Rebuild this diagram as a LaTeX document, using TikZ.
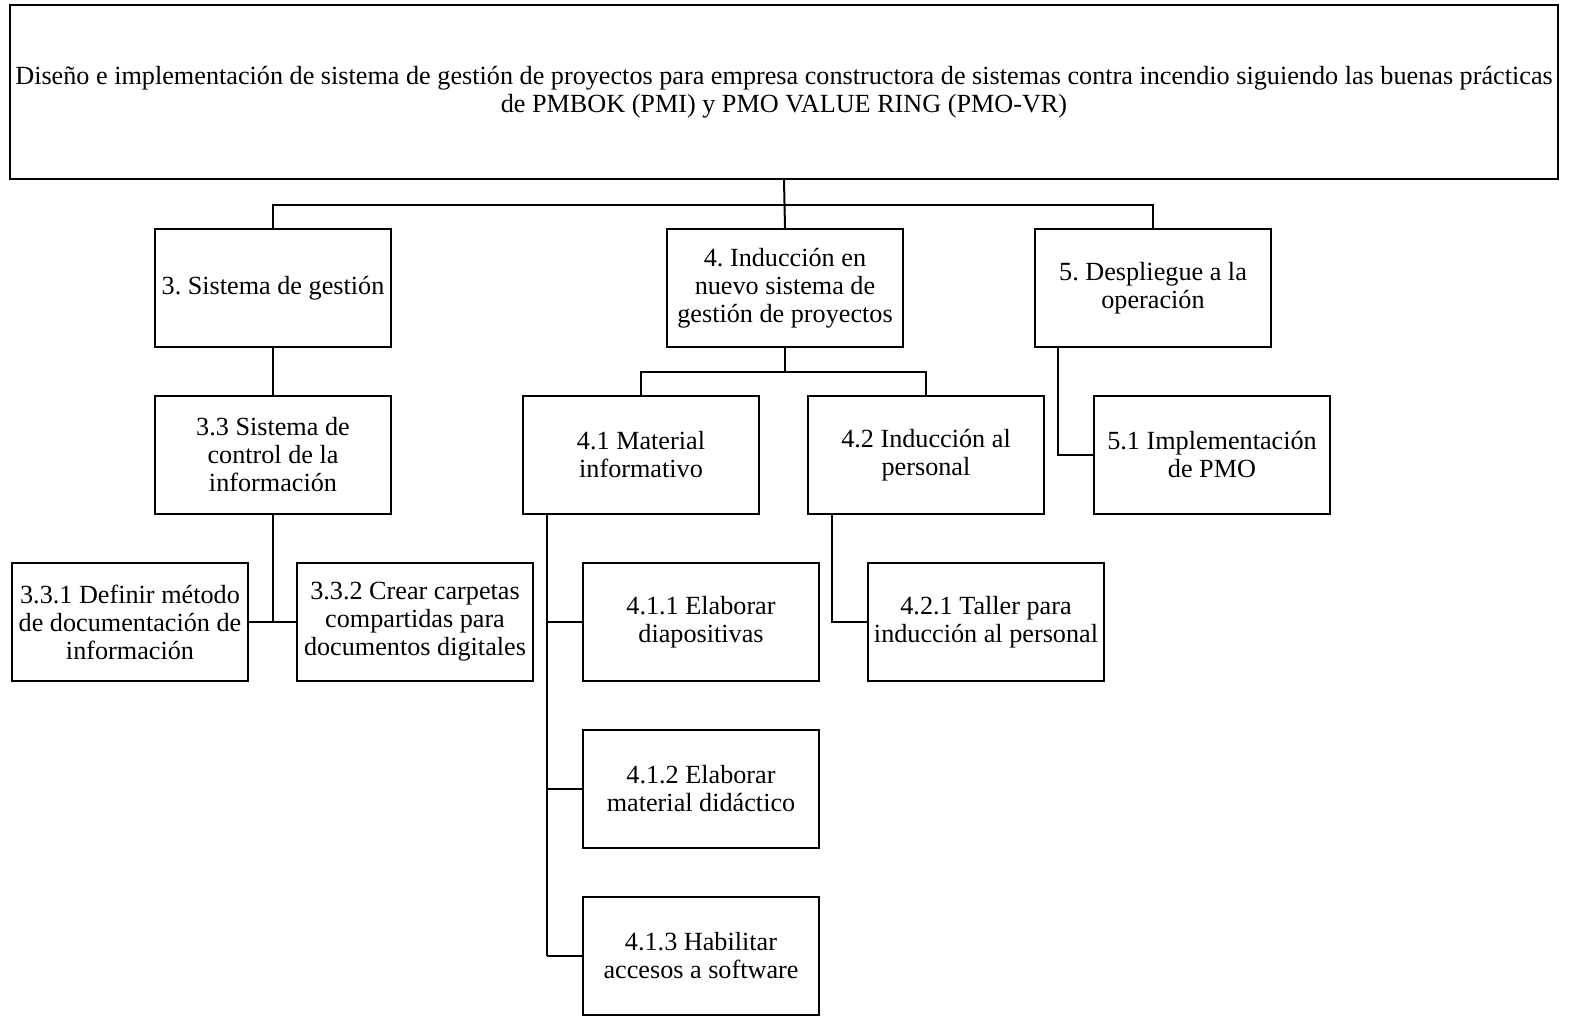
\documentclass[tikz,border=0pt]{standalone}
\usepackage{fontspec}
\setmainfont{Liberation Serif}
\usetikzlibrary{positioning}
\frenchspacing

\tikzset{
    wbsbox/.style={draw, line width=1pt, align=center, minimum width=118pt,
        minimum height=59pt, inner sep=0.5pt, font=\fontsize{13.1}{14}\selectfont},
    wbsline/.style={line width=1pt}
}

\begin{document}
\begin{tikzpicture}[x=0.5pt, y=-0.5pt]
    \useasboundingbox (0,0) rectangle (1572,1016);

    % Top box
    \node[wbsbox, minimum width=774pt, minimum height=87pt] (top) at (784,92)
        {Diseño e implementación de sistema de gestión de proyectos para empresa constructora de sistemas contra incendio siguiendo las buenas prácticas\\de PMBOK (PMI) y PMO VALUE RING (PMO-VR)};

    % Level 1
    \node[wbsbox] (n3) at (273,288) {3. Sistema de gestión};
    \node[wbsbox] (n4) at (785,288) {4. Inducción en\\nuevo sistema de\\gestión de proyectos};
    \node[wbsbox] (n5) at (1153,288) {5. Despliegue a la\\operación};

    % Level 2
    \node[wbsbox] (n33) at (273,455) {3.3 Sistema de\\control de la\\información};
    \node[wbsbox] (n41) at (641,455) {4.1 Material\\informativo};
    \node[wbsbox] (n42) at (926,455) {4.2 Inducción al\\personal};
    \node[wbsbox] (n51) at (1212,455) {5.1 Implementación\\de PMO};

    % Level 3
    \node[wbsbox] (n331) at (130,622) {3.3.1 Definir método\\de documentación de\\información};
    \node[wbsbox] (n332) at (415,622) {3.3.2 Crear carpetas\\compartidas para\\documentos digitales};
    \node[wbsbox] (n411) at (701,622) {4.1.1 Elaborar\\diapositivas};
    \node[wbsbox] (n412) at (701,789) {4.1.2 Elaborar\\material didáctico};
    \node[wbsbox] (n413) at (701,956) {4.1.3 Habilitar\\accesos a software};
    \node[wbsbox] (n421) at (986,622) {4.2.1 Taller para\\inducción al personal};

    % Bus levels
    \coordinate (bus1) at (785,205);
    \coordinate (bus4) at (785,372);

    % Connectors
    \draw[wbsline] (top.south) -- (n4.north);
    \draw[wbsline] (n3.north) -- (n3.north |- bus1) -| (n5.north);
    \draw[wbsline] (n3) -- (n33);
    \draw[wbsline] (n4.south) -- (n4.south |- bus4);
    \draw[wbsline] (n41.north) -- (n41.north |- bus4) -| (n42.north);
    \draw[wbsline] ([xshift=12pt]n5.south west) |- (n51.west);
    \draw[wbsline] (n33.south) -- (n33.south |- n331.east);
    \draw[wbsline] (n331.east) -- (n332.west);
    \draw[wbsline] ([xshift=12.5pt]n41.south west) -- ([xshift=12.5pt]n41.south west |- n413.west);
    \foreach \k in {n411,n412,n413}
        \draw[wbsline] ([xshift=12.5pt]n41.south west |- \k.west) -- (\k.west);
    \draw[wbsline] ([xshift=12.5pt]n42.south west) |- (n421.west);

\end{tikzpicture}
\end{document}
